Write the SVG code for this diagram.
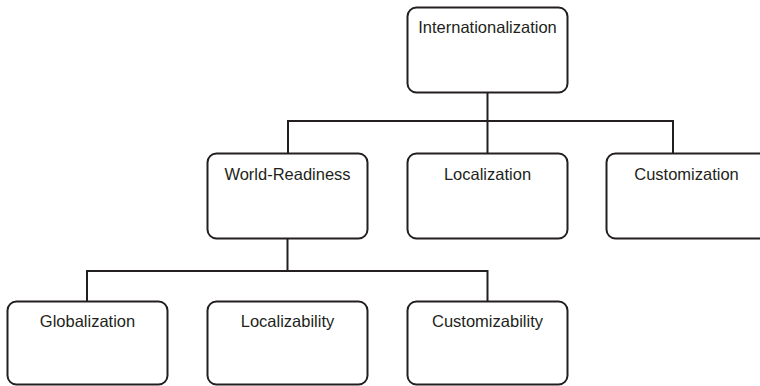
<svg xmlns="http://www.w3.org/2000/svg" width="760" height="386" viewBox="0 0 760 386">
<style>
.box{fill:#fff;stroke:#231f20;stroke-width:2}
.lbl{font-family:"Liberation Sans",Arial,sans-serif;font-size:16.5px;fill:#231f20;text-anchor:middle}
.conn{fill:none;stroke:#231f20;stroke-width:2}
</style>
<rect width="760" height="386" fill="#fff"/>
<g id="connectors">
<path class="conn" d="M487.5 92 V121 M288 153 V121 H673 V153 M487.5 121 V153"/>
<path class="conn" d="M287.5 239 V271 M87 301 V271 H487.5 V301"/>
</g>
<g id="internationalization"><rect class="box" x="407.5" y="7.5" width="160" height="85" rx="9"/><text class="lbl" x="487.5" y="33">Internationalization</text></g>
<g id="world-readiness"><rect class="box" x="207.5" y="153.5" width="160" height="85" rx="9"/><text class="lbl" x="287.5" y="180">World-Readiness</text></g>
<g id="localization"><rect class="box" x="407.5" y="153.5" width="160" height="85" rx="9"/><text class="lbl" x="487.5" y="180">Localization</text></g>
<g id="customization"><rect class="box" x="606.5" y="153.5" width="175" height="85" rx="9"/><text class="lbl" x="686.5" y="180">Customization</text></g>
<g id="globalization"><rect class="box" x="7.5" y="301.5" width="160" height="83" rx="9"/><text class="lbl" x="87.5" y="327">Globalization</text></g>
<g id="localizability"><rect class="box" x="207.5" y="301.5" width="160" height="83" rx="9"/><text class="lbl" x="287.5" y="327">Localizability</text></g>
<g id="customizability"><rect class="box" x="407.5" y="301.5" width="160" height="83" rx="9"/><text class="lbl" x="487.5" y="327">Customizability</text></g>
</svg>
